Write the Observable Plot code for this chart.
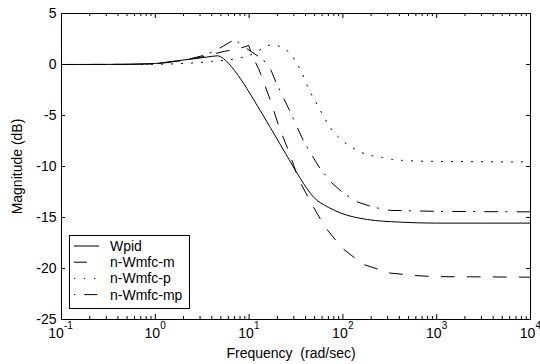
<!DOCTYPE html>
<html><head><meta charset="utf-8">
<script src="https://cdn.jsdelivr.net/npm/d3@7"></script>
<script src="https://cdn.jsdelivr.net/npm/@observablehq/plot@0.6"></script>
<style>body{margin:0;background:#fff}#chart svg{display:block}</style>
</head><body><div id="chart"></div>
<script>
// ---- data ----
const seriesNames = ["Wpid", "n-Wmfc-m", "n-Wmfc-p", "n-Wmfc-mp"];

const freqWpid = [0.1,0.3,1,1.5,2.5,3.5,4.6,5.3,6,7,8.1,11.1,16.9,24.4,35.3,48.6,70,94,183,400,1000,10000];
const magWpid  = [0,0.01,0.1,0.3,0.55,0.72,0.85,0.6,0.15,-0.6,-1.4,-3.4,-6.2,-8.7,-11.2,-13.0,-14.0,-14.55,-15.2,-15.45,-15.55,-15.55];

const freqM = [0.1,0.5,1,2,3,4,5.5,7.4,9.9,10.9,12.6,14.1,17,21,27,33.5,46,64,98,165,320,600,1000,10000];
const magM  = [0,0.01,0.06,0.4,0.7,1.0,1.3,1.5,1.86,0.78,-0.39,-1.57,-3.6,-6.2,-8.7,-11.2,-13.6,-15.9,-18.0,-19.6,-20.45,-20.7,-20.8,-20.85];

const freqP = [0.1,0.5,1,2,4,7.5,10,12.3,14.9,18,23,27.6,31.8,36,44,56,72,101,126,158,200,256,330,430,1000,10000];
const magP  = [0,0,0.02,0.1,0.3,0.6,0.9,1.3,1.75,1.95,1.57,1.08,0.2,-0.69,-2.55,-4.31,-6.08,-7.55,-8.14,-8.63,-8.92,-9.1,-9.3,-9.4,-9.5,-9.55];

const freqMP = [0.1,0.5,1,2,3,4,5.3,7,10,14.1,17.2,19,22.5,27,32,37.8,46,57,75,101,140,212,320,1000,10000];
const magMP  = [0,0.01,0.05,0.4,0.8,1.2,1.8,2.45,1.4,0.5,-0.6,-1.57,-3.0,-4.5,-6.0,-7.45,-8.8,-10.2,-11.55,-12.6,-13.45,-14.0,-14.3,-14.4,-14.45];

const xExponents = [-1,0,1,2,3,4];
const yTicks = [-25,-20,-15,-10,-5,0,5];
const xLabel = "Frequency\u00a0 (rad/sec)";
const yLabel = "Magnitude (dB)";

// ---- build ----
const W = 540, H = 364, mL = 61, mR = 10, mT = 13, mB = 45;
const fw = W - mL - mR, fh = H - mT - mB;
const font = "'Liberation Sans', Arial, Helvetica, sans-serif";
const majorTicks = xExponents.map(e => Math.pow(10, e));
const minorTicks = xExponents.slice(0, -1).flatMap(e => [2,3,4,5,6,7,8,9].map(k => k * Math.pow(10, e)));
const toRows = (f, m) => f.map((v, i) => ({f: v, m: m[i]}));
const dashes = [null, "13,13", "1.2,8.8", "13,8,1.2,10"];

const styles = [
  {data: toRows(freqWpid, magWpid), curve: "monotone-x"},
  {data: toRows(freqM, magM), curve: "linear"},
  {data: toRows(freqP, magP), curve: "monotone-x"},
  {data: toRows(freqMP, magMP), curve: "linear"}
];

const tickOpts = {stroke: "black", strokeWidth: 1};
const chart = Plot.plot({
  width: W, height: H,
  marginLeft: mL, marginRight: mR, marginTop: mT, marginBottom: mB,
  x: {type: "log", domain: [0.1, 10000], label: null, axis: null},
  y: {domain: [-25, 5], label: null},
  style: {fontFamily: font, fontSize: "14px", background: "white", color: "black"},
  marks: [
    // inward ticks on all four sides
    Plot.tickX(minorTicks, {x: d => d, insetTop: fh - 3, ...tickOpts}),
    Plot.tickX(minorTicks, {x: d => d, insetBottom: fh - 3, ...tickOpts}),
    Plot.tickX(majorTicks, {x: d => d, insetTop: fh - 5, ...tickOpts}),
    Plot.tickX(majorTicks, {x: d => d, insetBottom: fh - 5, ...tickOpts}),
    Plot.tickY(yTicks, {y: d => d, insetRight: fw - 4, ...tickOpts}),
    Plot.tickY(yTicks, {y: d => d, insetLeft: fw - 4, ...tickOpts}),
    Plot.axisY({ticks: yTicks, tickSize: 0, tickPadding: 5, tickFormat: d => String(d), anchor: "left", label: null, fontSize: 14}),
    Plot.text(xExponents.filter(e => e < 0), {x: e => Math.pow(10, e), text: () => "10", frameAnchor: "bottom", dy: 18, dx: -5.5, fontSize: 14}),
    Plot.text(xExponents.filter(e => e >= 0), {x: e => Math.pow(10, e), text: () => "10", frameAnchor: "bottom", dy: 18, dx: -3, fontSize: 14}),
    Plot.text(xExponents.filter(e => e < 0), {x: e => Math.pow(10, e), text: e => String(e), frameAnchor: "bottom", dy: 9, dx: 2.5, textAnchor: "start", fontSize: 10}),
    Plot.text(xExponents.filter(e => e >= 0), {x: e => Math.pow(10, e), text: e => String(e), frameAnchor: "bottom", dy: 9, dx: 5.0, textAnchor: "start", fontSize: 10}),
    Plot.text([xLabel], {text: d => d, frameAnchor: "bottom", dy: 38, dx: -5, fontSize: 14}),
    Plot.text([yLabel], {text: d => d, frameAnchor: "left", rotate: -90, dx: -43.5, textAnchor: "middle", fontSize: 14}),
    ...styles.map((s, i) => Plot.line(s.data, {x: "f", y: "m", stroke: "black", strokeWidth: 1, strokeDasharray: dashes[i], curve: s.curve})),
    Plot.frame({stroke: "black", strokeWidth: 1})
  ]
});

document.getElementById("chart").append(chart);

// legend box (lower-left inside the axes)
const svg = d3.select(chart);
const lg = svg.append("g").attr("font-family", font).attr("font-size", 14)
  .attr("fill", "black").attr("text-anchor", "start");
lg.append("rect").attr("x", 69.5).attr("y", 235.5).attr("width", 120).attr("height", 73)
  .attr("fill", "white").attr("stroke", "black").attr("stroke-width", 1);
const legendDash = [null, "13,13", "1.2,8.8", "1.2,9,13,8"];
seriesNames.forEach((name, i) => {
  const y = 246 + i * 16.2;
  lg.append("line").attr("x1", 74).attr("x2", 99).attr("y1", y).attr("y2", y)
    .attr("stroke", "black").attr("stroke-width", 1)
    .attr("stroke-dasharray", legendDash[i]);
  lg.append("text").attr("x", 110).attr("y", y).attr("dy", "0.35em")
    .attr("text-anchor", "start").text(name);
});
</script></body></html>
